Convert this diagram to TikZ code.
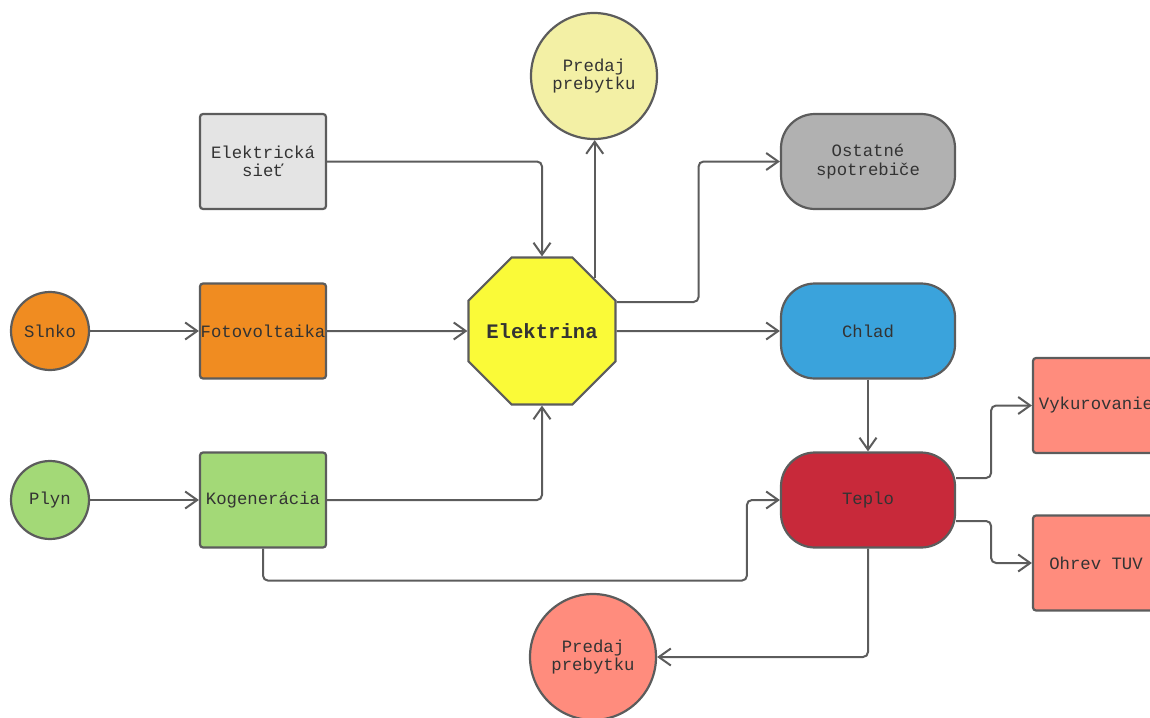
\documentclass[tikz,border=0pt]{standalone}
\usepackage{fontspec}
\setmainfont{Liberation Mono}
\usetikzlibrary{arrows.meta,shapes.geometric,calc}

\definecolor{edgegray}{HTML}{5C5C5C}
\definecolor{txtgray}{HTML}{333333}
\definecolor{sietfill}{HTML}{E4E4E4}
\definecolor{orangefill}{HTML}{F08C21}
\definecolor{greenfill}{HTML}{A3D977}
\definecolor{yellowfill}{HTML}{FAFA38}
\definecolor{paleyellow}{HTML}{F3F0A5}
\definecolor{grayfill}{HTML}{B1B1B1}
\definecolor{bluefill}{HTML}{3AA3DC}
\definecolor{redfill}{HTML}{C8293A}
\definecolor{salmonfill}{HTML}{FF8C7D}

\begin{document}
\begin{tikzpicture}
  [x=1pt, y=-1pt, font=\fontsize{17.3}{18.5}\selectfont, text=txtgray,
   box/.style={draw=edgegray, line width=2.2pt, rounded corners=3pt, shape=rectangle,
     minimum width=126pt, minimum height=95pt, align=center, inner sep=0pt},
   pill/.style={draw=edgegray, line width=2.2pt, rounded corners=34pt, shape=rectangle,
     minimum width=174pt, minimum height=95pt, align=center, inner sep=0pt},
   src/.style={draw=edgegray, line width=2.2pt, circle, minimum size=78pt, inner sep=0pt},
   sale/.style={draw=edgegray, line width=2.2pt, circle, minimum size=126pt, inner sep=0pt, align=center},
   flow/.style={draw=edgegray, line width=2pt, rounded corners=5pt,
     -{Straight Barb[length=12pt, width=17pt, line width=2pt]}}]
  \useasboundingbox (0,0) rectangle (1150,717);

  \node[box, fill=sietfill] (siet) at (263,161.5) {Elektrická\\sieť};
  \node[src, fill=orangefill] (slnko) at (50,331) {Slnko};
  \node[box, fill=orangefill] (fve) at (263,331) {Fotovoltaika};
  \node[src, fill=greenfill] (plyn) at (50,500) {Plyn};
  \node[box, fill=greenfill] (kgj) at (263,500) {Kogenerácia};

  \node[draw=edgegray, line width=2.2pt, regular polygon, regular polygon sides=8,
    minimum size=159pt, inner sep=0pt, fill=yellowfill, font=\fontsize{20.6}{22}\selectfont\bfseries]
    (elek) at (542,331) {\makebox[0pt]{Elektrina}};

  \node[sale, fill=paleyellow] (predajE) at (594,76) {Predaj\\prebytku};
  \node[pill, fill=grayfill] (ostatne) at (868,161.5) {Ostatné\\spotrebiče};
  \node[pill, fill=bluefill] (chlad) at (868,331) {Chlad};
  \node[pill, fill=redfill] (teplo) at (868,500) {Teplo};
  \node[box, fill=salmonfill] (vyk) at (1096,405.5) {Vykurovanie};
  \node[box, fill=salmonfill] (tuv) at (1096,563) {Ohrev TUV};
  \node[sale, fill=salmonfill] (predajT) at (593,657) {Predaj\\prebytku};

  \draw[flow] (siet.east) -| (elek.north);
  \draw[flow] (slnko) -- (fve);
  \draw[flow] (fve) -- (elek);
  \draw[flow] (plyn) -- (kgj);
  \draw[flow] (kgj.east) -| (elek.south);
  \draw[flow] (elek.north east) -- (elek.north east |- predajE.south);
  \draw[flow] ([yshift=29pt]elek.east) -- ++(82,0) |- (ostatne.west);
  \draw[flow] (elek.east) -- (chlad.west);
  \draw[flow] (chlad) -- (teplo);
  \draw[flow] (kgj.south) -- ++(0,32) -| ($(teplo.west)+(-33,0)$) -- (teplo.west);
  \draw[flow] ([yshift=22pt]teplo.east) -- ++(35,0) |- (vyk.west);
  \draw[flow] ([yshift=-21pt]teplo.east) -- ++(35,0) |- (tuv.west);
  \draw[flow] (teplo.south) |- (predajT.east);
\end{tikzpicture}
\end{document}
